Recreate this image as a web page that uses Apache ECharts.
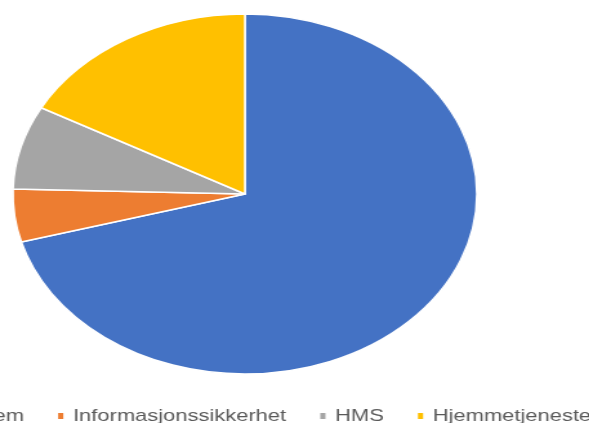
<!DOCTYPE html>
<html>
<head>
<meta charset="utf-8">
<script src="https://cdn.jsdelivr.net/npm/echarts@6/dist/echarts.min.js"></script>
<style>
html,body{margin:0;padding:0;background:#fff;overflow:hidden;}
#main{width:457px;height:423px;transform:scaleX(1.289);transform-origin:0 0;}
</style>
</head>
<body>
<div id="main"></div>
<script>
const categories = ['Fagsystem', 'Informasjonssikkerhet', 'HMS', 'Hjemmetjeneste'];
const values = [70.7, 4.75, 7.5, 17.05];
const colors = ['#4472C4', '#ED7D31', '#A5A5A5', '#FFC000'];

const chart = echarts.init(document.getElementById('main'), null, {renderer: 'canvas'});
chart.setOption({
  animation: false,
  color: colors,
  legend: {
    data: categories,
    left: -78,
    top: 407,
    width: 800,
    padding: 0,
    icon: 'rect',
    itemWidth: 6,
    itemHeight: 8,
    itemGap: 24.5,
    textStyle: {
      fontFamily: 'Liberation Sans, Arial, sans-serif',
      fontSize: 17,
      lineHeight: 18,
      color: '#595959',
      padding: [0, 0, 0, 1.5]
    }
  },
  series: [{
    type: 'pie',
    center: [190, 194],
    radius: [0, 180],
    startAngle: 90,
    clockwise: true,
    label: {show: false},
    labelLine: {show: false},
    itemStyle: {borderColor: '#fff', borderWidth: 1.5},
    emphasis: {disabled: true},
    data: categories.map((c, i) => ({name: c, value: values[i]}))
  }]
});
</script>
</body>
</html>
